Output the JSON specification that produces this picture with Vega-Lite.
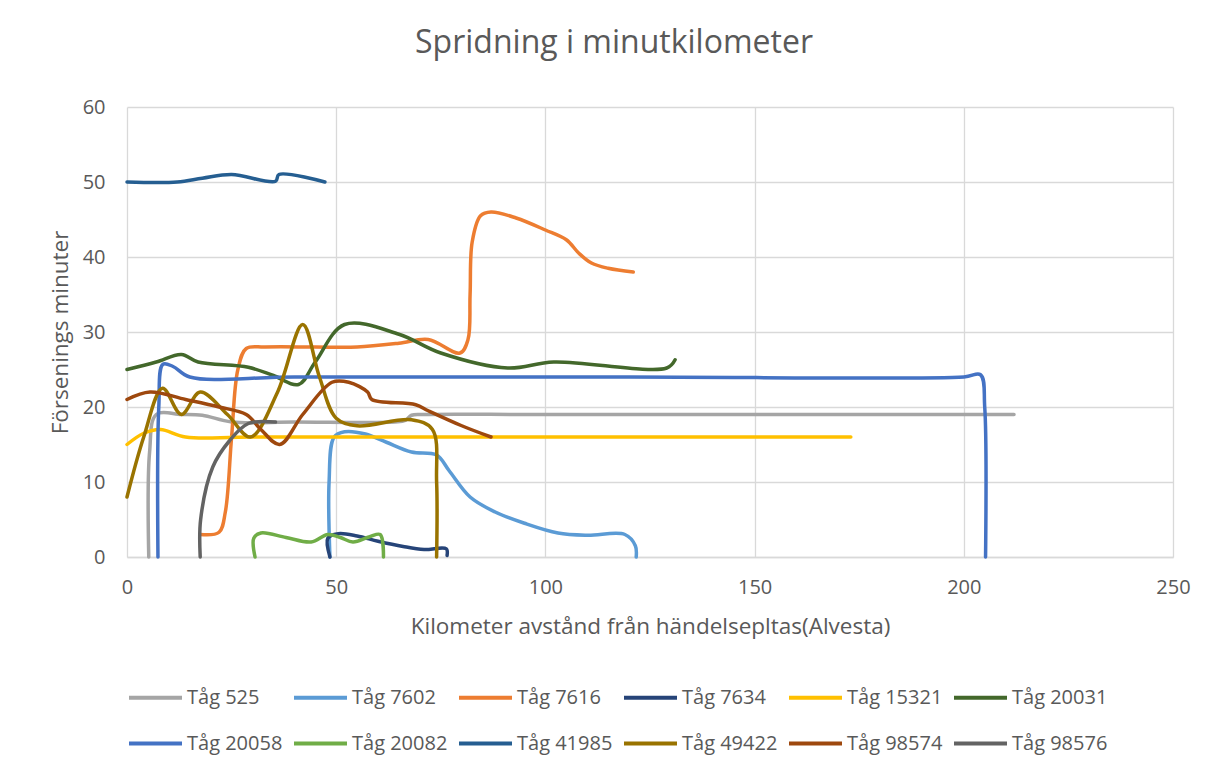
{
  "$schema": "https://vega.github.io/schema/vega-lite/v6.json",
  "width": 1046,
  "height": 450,
  "autosize": {"type": "none"},
  "padding": {"left": 127, "top": 107, "right": 35, "bottom": 214},
  "background": "white",
  "title": {
    "text": "Spridning i minutkilometer",
    "font": "Open Sans",
    "fontSize": 32,
    "fontWeight": "normal",
    "color": "#595959",
    "anchor": "middle",
    "baseline": "alphabetic",
    "offset": 12,
    "dx": -36
  },
  "config": {
    "view": {"stroke": null},
    "font": "Open Sans",
    "axis": {
      "labelFont": "Open Sans",
      "titleFont": "Open Sans",
      "labelFontSize": 20,
      "titleFontSize": 22.5,
      "labelColor": "#595959",
      "titleColor": "#595959",
      "titleFontWeight": "normal",
      "gridColor": "#D9D9D9",
      "gridWidth": 1.3,
      "ticks": false,
      "domainColor": "#D9D9D9",
      "domainWidth": 1.3,
      "labelFlush": false
    },
    "legend": {
      "labelFont": "Open Sans",
      "labelFontSize": 20,
      "labelColor": "#595959"
    }
  },
  "data": {
    "values": [
      {"s": "Tåg 525", "i": 0, "x": 5.2, "y": 0},
      {"s": "Tåg 525", "i": 1, "x": 5.4, "y": 14},
      {"s": "Tåg 525", "i": 2, "x": 7, "y": 19},
      {"s": "Tåg 525", "i": 3, "x": 13, "y": 19},
      {"s": "Tåg 525", "i": 4, "x": 18, "y": 18.9},
      {"s": "Tåg 525", "i": 5, "x": 25, "y": 18},
      {"s": "Tåg 525", "i": 6, "x": 40, "y": 18},
      {"s": "Tåg 525", "i": 7, "x": 64, "y": 18},
      {"s": "Tåg 525", "i": 8, "x": 66.5, "y": 18.2},
      {"s": "Tåg 525", "i": 9, "x": 68, "y": 18.9},
      {"s": "Tåg 525", "i": 10, "x": 71, "y": 19},
      {"s": "Tåg 525", "i": 11, "x": 100, "y": 19},
      {"s": "Tåg 525", "i": 12, "x": 212, "y": 19},

      {"s": "Tåg 7602", "i": 0, "x": 48.5, "y": 0},
      {"s": "Tåg 7602", "i": 1, "x": 48.3, "y": 10},
      {"s": "Tåg 7602", "i": 2, "x": 49.5, "y": 16},
      {"s": "Tåg 7602", "i": 3, "x": 52, "y": 16.7},
      {"s": "Tåg 7602", "i": 4, "x": 57, "y": 16.4},
      {"s": "Tåg 7602", "i": 5, "x": 62, "y": 15.3},
      {"s": "Tåg 7602", "i": 6, "x": 68, "y": 14},
      {"s": "Tåg 7602", "i": 7, "x": 74, "y": 13.6},
      {"s": "Tåg 7602", "i": 8, "x": 77, "y": 11.5},
      {"s": "Tåg 7602", "i": 9, "x": 82, "y": 8},
      {"s": "Tåg 7602", "i": 10, "x": 88, "y": 6},
      {"s": "Tåg 7602", "i": 11, "x": 95, "y": 4.5},
      {"s": "Tåg 7602", "i": 12, "x": 103, "y": 3.2},
      {"s": "Tåg 7602", "i": 13, "x": 110, "y": 2.9},
      {"s": "Tåg 7602", "i": 14, "x": 119, "y": 3},
      {"s": "Tåg 7602", "i": 15, "x": 121.5, "y": 1.5},
      {"s": "Tåg 7602", "i": 16, "x": 121.7, "y": 0},

      {"s": "Tåg 7616", "i": 0, "x": 17.5, "y": 3},
      {"s": "Tåg 7616", "i": 1, "x": 22, "y": 3.3},
      {"s": "Tåg 7616", "i": 2, "x": 23.5, "y": 6},
      {"s": "Tåg 7616", "i": 3, "x": 25, "y": 16},
      {"s": "Tåg 7616", "i": 4, "x": 26.5, "y": 25},
      {"s": "Tåg 7616", "i": 5, "x": 28.5, "y": 27.8},
      {"s": "Tåg 7616", "i": 6, "x": 33, "y": 28},
      {"s": "Tåg 7616", "i": 7, "x": 45, "y": 28},
      {"s": "Tåg 7616", "i": 8, "x": 55, "y": 28},
      {"s": "Tåg 7616", "i": 9, "x": 65, "y": 28.5},
      {"s": "Tåg 7616", "i": 10, "x": 72, "y": 29},
      {"s": "Tåg 7616", "i": 11, "x": 79.6, "y": 27.2},
      {"s": "Tåg 7616", "i": 12, "x": 81.5, "y": 29},
      {"s": "Tåg 7616", "i": 13, "x": 82, "y": 35},
      {"s": "Tåg 7616", "i": 14, "x": 82.5, "y": 42},
      {"s": "Tåg 7616", "i": 15, "x": 84.5, "y": 45.5},
      {"s": "Tåg 7616", "i": 16, "x": 87, "y": 46},
      {"s": "Tåg 7616", "i": 17, "x": 93, "y": 45.2},
      {"s": "Tåg 7616", "i": 18, "x": 100, "y": 43.6},
      {"s": "Tåg 7616", "i": 19, "x": 105, "y": 42.3},
      {"s": "Tåg 7616", "i": 20, "x": 108, "y": 40.5},
      {"s": "Tåg 7616", "i": 21, "x": 111, "y": 39.2},
      {"s": "Tåg 7616", "i": 22, "x": 115, "y": 38.5},
      {"s": "Tåg 7616", "i": 23, "x": 121, "y": 38},

      {"s": "Tåg 7634", "i": 0, "x": 48.5, "y": 0},
      {"s": "Tåg 7634", "i": 1, "x": 48, "y": 2.5},
      {"s": "Tåg 7634", "i": 2, "x": 50.5, "y": 3.1},
      {"s": "Tåg 7634", "i": 3, "x": 55, "y": 2.8},
      {"s": "Tåg 7634", "i": 4, "x": 60, "y": 2.1},
      {"s": "Tåg 7634", "i": 5, "x": 66, "y": 1.4},
      {"s": "Tåg 7634", "i": 6, "x": 71, "y": 1},
      {"s": "Tåg 7634", "i": 7, "x": 76.3, "y": 1.1},
      {"s": "Tåg 7634", "i": 8, "x": 76.5, "y": 0.2},

      {"s": "Tåg 15321", "i": 0, "x": 0, "y": 15},
      {"s": "Tåg 15321", "i": 1, "x": 4, "y": 16.5},
      {"s": "Tåg 15321", "i": 2, "x": 8, "y": 17},
      {"s": "Tåg 15321", "i": 3, "x": 14, "y": 16},
      {"s": "Tåg 15321", "i": 4, "x": 30, "y": 16},
      {"s": "Tåg 15321", "i": 5, "x": 173, "y": 16},

      {"s": "Tåg 20031", "i": 0, "x": 0, "y": 25},
      {"s": "Tåg 20031", "i": 1, "x": 7, "y": 26},
      {"s": "Tåg 20031", "i": 2, "x": 13, "y": 27},
      {"s": "Tåg 20031", "i": 3, "x": 17, "y": 26},
      {"s": "Tåg 20031", "i": 4, "x": 29, "y": 25.3},
      {"s": "Tåg 20031", "i": 5, "x": 35, "y": 24.2},
      {"s": "Tåg 20031", "i": 6, "x": 41, "y": 23},
      {"s": "Tåg 20031", "i": 7, "x": 45, "y": 26},
      {"s": "Tåg 20031", "i": 8, "x": 52, "y": 31},
      {"s": "Tåg 20031", "i": 9, "x": 65, "y": 29.7},
      {"s": "Tåg 20031", "i": 10, "x": 75, "y": 27.2},
      {"s": "Tåg 20031", "i": 11, "x": 91, "y": 25.2},
      {"s": "Tåg 20031", "i": 12, "x": 102, "y": 26},
      {"s": "Tåg 20031", "i": 13, "x": 129, "y": 25.2},
      {"s": "Tåg 20031", "i": 14, "x": 131, "y": 26.3},

      {"s": "Tåg 20058", "i": 0, "x": 7.4, "y": 0},
      {"s": "Tåg 20058", "i": 1, "x": 7.6, "y": 20},
      {"s": "Tåg 20058", "i": 2, "x": 8.6, "y": 25.7},
      {"s": "Tåg 20058", "i": 3, "x": 11, "y": 25.4},
      {"s": "Tåg 20058", "i": 4, "x": 15, "y": 24},
      {"s": "Tåg 20058", "i": 5, "x": 40, "y": 24},
      {"s": "Tåg 20058", "i": 6, "x": 120, "y": 24},
      {"s": "Tåg 20058", "i": 7, "x": 200, "y": 24},
      {"s": "Tåg 20058", "i": 8, "x": 204, "y": 24.3},
      {"s": "Tåg 20058", "i": 9, "x": 205, "y": 20},
      {"s": "Tåg 20058", "i": 10, "x": 205.2, "y": 0},

      {"s": "Tåg 20082", "i": 0, "x": 30.6, "y": 0},
      {"s": "Tåg 20082", "i": 1, "x": 30.3, "y": 2.5},
      {"s": "Tåg 20082", "i": 2, "x": 32, "y": 3.2},
      {"s": "Tåg 20082", "i": 3, "x": 38, "y": 2.6},
      {"s": "Tåg 20082", "i": 4, "x": 44, "y": 2},
      {"s": "Tåg 20082", "i": 5, "x": 48, "y": 3},
      {"s": "Tåg 20082", "i": 6, "x": 51, "y": 2.6},
      {"s": "Tåg 20082", "i": 7, "x": 54, "y": 2},
      {"s": "Tåg 20082", "i": 8, "x": 58, "y": 2.7},
      {"s": "Tåg 20082", "i": 9, "x": 60.5, "y": 3},
      {"s": "Tåg 20082", "i": 10, "x": 61.3, "y": 0},

      {"s": "Tåg 41985", "i": 0, "x": 0, "y": 50},
      {"s": "Tåg 41985", "i": 1, "x": 12, "y": 50},
      {"s": "Tåg 41985", "i": 2, "x": 18, "y": 50.5},
      {"s": "Tåg 41985", "i": 3, "x": 25, "y": 51},
      {"s": "Tåg 41985", "i": 4, "x": 35.5, "y": 50.1},
      {"s": "Tåg 41985", "i": 5, "x": 36.3, "y": 51},
      {"s": "Tåg 41985", "i": 6, "x": 47.3, "y": 50},

      {"s": "Tåg 49422", "i": 0, "x": 0, "y": 8},
      {"s": "Tåg 49422", "i": 1, "x": 4, "y": 16},
      {"s": "Tåg 49422", "i": 2, "x": 8.5, "y": 22.5},
      {"s": "Tåg 49422", "i": 3, "x": 13, "y": 19},
      {"s": "Tåg 49422", "i": 4, "x": 17.5, "y": 22},
      {"s": "Tåg 49422", "i": 5, "x": 24, "y": 19},
      {"s": "Tåg 49422", "i": 6, "x": 29.5, "y": 16},
      {"s": "Tåg 49422", "i": 7, "x": 36, "y": 22},
      {"s": "Tåg 49422", "i": 8, "x": 42, "y": 31},
      {"s": "Tåg 49422", "i": 9, "x": 46, "y": 24},
      {"s": "Tåg 49422", "i": 10, "x": 50, "y": 18.5},
      {"s": "Tåg 49422", "i": 11, "x": 55, "y": 17.5},
      {"s": "Tåg 49422", "i": 12, "x": 68, "y": 18.3},
      {"s": "Tåg 49422", "i": 13, "x": 73, "y": 17},
      {"s": "Tåg 49422", "i": 14, "x": 74, "y": 10},
      {"s": "Tåg 49422", "i": 15, "x": 74, "y": 0},

      {"s": "Tåg 98574", "i": 0, "x": 0, "y": 21},
      {"s": "Tåg 98574", "i": 1, "x": 5.5, "y": 22},
      {"s": "Tåg 98574", "i": 2, "x": 14, "y": 21},
      {"s": "Tåg 98574", "i": 3, "x": 22, "y": 20},
      {"s": "Tåg 98574", "i": 4, "x": 28.5, "y": 19},
      {"s": "Tåg 98574", "i": 5, "x": 32, "y": 17},
      {"s": "Tåg 98574", "i": 6, "x": 36.5, "y": 15},
      {"s": "Tåg 98574", "i": 7, "x": 42, "y": 19},
      {"s": "Tåg 98574", "i": 8, "x": 49, "y": 23.3},
      {"s": "Tåg 98574", "i": 9, "x": 53, "y": 23.3},
      {"s": "Tåg 98574", "i": 10, "x": 57.5, "y": 22},
      {"s": "Tåg 98574", "i": 11, "x": 58.5, "y": 21},
      {"s": "Tåg 98574", "i": 12, "x": 69, "y": 20.3},
      {"s": "Tåg 98574", "i": 13, "x": 72, "y": 19.5},
      {"s": "Tåg 98574", "i": 14, "x": 80, "y": 17.5},
      {"s": "Tåg 98574", "i": 15, "x": 87, "y": 16},

      {"s": "Tåg 98576", "i": 0, "x": 17.5, "y": 0},
      {"s": "Tåg 98576", "i": 1, "x": 17.6, "y": 5},
      {"s": "Tåg 98576", "i": 2, "x": 20.5, "y": 12},
      {"s": "Tåg 98576", "i": 3, "x": 24.5, "y": 15.5},
      {"s": "Tåg 98576", "i": 4, "x": 29, "y": 17.8},
      {"s": "Tåg 98576", "i": 5, "x": 35.5, "y": 18}
    ]
  },
  "mark": {"type": "line", "interpolate": "catmull-rom", "strokeWidth": 3.5, "strokeCap": "round", "strokeJoin": "round"},
  "encoding": {
    "x": {
      "field": "x", "type": "quantitative",
      "scale": {"domain": [0, 250], "nice": false},
      "axis": {"values": [0, 50, 100, 150, 200, 250], "title": "Kilometer avstånd från händelsepltas(Alvesta)", "labelPadding": 20, "titlePadding": 18, "grid": true}
    },
    "y": {
      "field": "y", "type": "quantitative",
      "scale": {"domain": [0, 60], "nice": false},
      "axis": {"values": [0, 10, 20, 30, 40, 50, 60], "title": "Försenings minuter", "labelPadding": 22, "titlePadding": 10, "domain": false}
    },
    "order": {"field": "i", "type": "quantitative"},
    "color": {
      "field": "s", "type": "nominal",
      "scale": {
        "domain": ["Tåg 525", "Tåg 7602", "Tåg 7616", "Tåg 7634", "Tåg 15321", "Tåg 20031", "Tåg 20058", "Tåg 20082", "Tåg 41985", "Tåg 49422", "Tåg 98574", "Tåg 98576"],
        "range": ["#A5A5A5", "#5B9BD5", "#ED7D31", "#264478", "#FFC000", "#43682B", "#4472C4", "#70AD47", "#255E91", "#997300", "#9E480E", "#636363"]
      },
      "legend": {
        "title": null,
        "orient": "none",
        "legendX": 0,
        "legendY": 562,
        "direction": "horizontal",
        "columns": 6,
        "gridAlign": "all",
        "symbolType": "stroke",
        "symbolSize": 2809,
        "symbolStrokeWidth": 4,
        "labelOffset": 3,
        "columnPadding": 3,
        "rowPadding": 7,
        "padding": 0
      }
    }
  }
}
